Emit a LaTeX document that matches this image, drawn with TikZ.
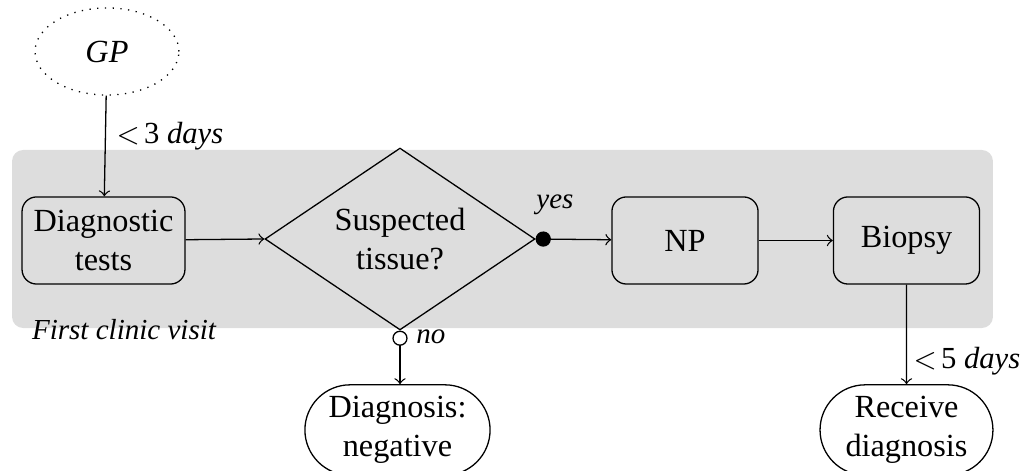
\documentclass[tikz,border=0pt]{standalone}
\usepackage{fontspec}
\setmainfont{Liberation Serif}
\usetikzlibrary{shapes.geometric,shapes.misc,arrows}
\definecolor{bggray}{HTML}{DDDDDD}
\begin{document}
\begin{tikzpicture}[x=0.31pt,y=-0.31pt,
  box/.style={draw, rounded corners=4.5pt, minimum width=#1, minimum height=27pt, align=center, inner sep=0pt},
  box/.default=45.3pt,
  term/.style={draw, rounded rectangle, minimum width=#1, minimum height=28pt, align=center, inner sep=0pt},
  decision/.style={draw, diamond, minimum width=83.7pt, minimum height=56.4pt, aspect=1.48, align=center, inner sep=0pt},
  lbl/.style={font=\itshape, inner sep=0pt},
  dlbl/.style={font=\itshape\fontsize{9.5}{11}\selectfont, inner sep=0pt, anchor=west},
  conn/.style={->}
]
\useasboundingbox (0,0) rectangle (1021,471);
\node[fill=bggray, rounded corners=3.5pt, minimum width=304.1pt, minimum height=55.2pt, inner sep=0pt] (bg) at (502.5,239) {};

\node[draw, dotted, ellipse, minimum width=44.6pt, minimum height=27pt, inner sep=0pt, font=\itshape] (gp) at (107,51.5) {GP};
\node[box=50.5pt] (dt) at (103.5,240.5) {Diagnostic\\tests};
\node[decision] (st) at (400,239) {Suspected\\tissue?};
\node[box] (np) at (685,240.5) {NP};
\node[box] (bx) at (906.5,240.5) {Biopsy};
\node[term=57.4pt] (dn) at (397.5,430) {Diagnosis:\\negative};
\node[term=53.6pt] (rd) at (906.5,430) {Receive\\diagnosis};

\draw[conn] (gp) -- (dt);
\draw[conn] (dt) -- (st.west);
\draw[*->] (st.east) -- (np);
\draw[conn] (np) -- (bx);
\draw[o->] (st.south) -- (st.south |- dn.north);
\draw[conn] (bx) -- (rd);

\node[dlbl] (l3) at (116,136) {\upshape{\small$<$}\kern1.3pt3 \textit{days}};
\node[dlbl] (l5) at (913,361) {\upshape{\small$<$}\kern1.3pt5 \textit{days}};
\node[lbl, font=\itshape\fontsize{9}{11}\selectfont] (yes) at (555,205) {yes};
\node[lbl, font=\itshape\fontsize{9}{11}\selectfont] (no) at (431,337) {no};
\node[lbl, font=\itshape\fontsize{9}{11}\selectfont] (fcv) at (124,330) {First clinic visit};
\end{tikzpicture}
\end{document}
